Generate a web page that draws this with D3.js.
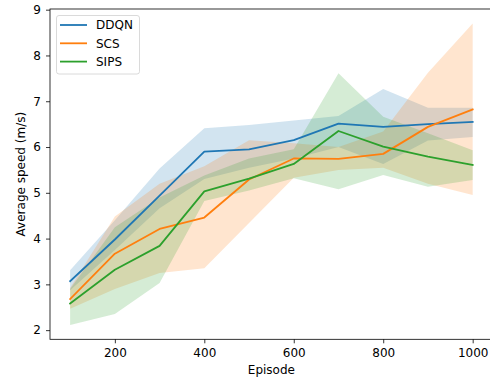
<!DOCTYPE html>
<html>
<head>
<meta charset="utf-8">
<script src="https://cdn.jsdelivr.net/npm/d3@7"></script>
<style>
  body { margin: 0; background: #fff; }
  svg { display: block; }
  text { font-family: "DejaVu Sans", sans-serif; }
</style>
</head>
<body>
<svg id="chart" width="490" height="378"></svg>
<script>
const episodes = [100, 200, 300, 400, 500, 600, 700, 800, 900, 1000];

const ddqnMean  = [3.07, 3.98, 4.94, 5.90, 5.95, 6.15, 6.51, 6.44, 6.50, 6.55];
const ddqnUpper = [3.31, 4.40, 5.53, 6.41, 6.48, 6.58, 6.68, 7.27, 6.86, 6.86];
const ddqnLower = [2.87, 3.75, 4.66, 5.30, 5.55, 5.75, 6.00, 5.63, 6.14, 6.22];

const scsMean  = [2.68, 3.67, 4.21, 4.46, 5.29, 5.75, 5.74, 5.85, 6.44, 6.82];
const scsUpper = [2.92, 4.48, 5.20, 5.58, 6.15, 6.08, 6.00, 6.34, 7.62, 8.70];
const scsLower = [2.47, 2.90, 3.25, 3.35, 4.34, 5.33, 5.50, 5.55, 5.20, 4.95];

const sipsMean  = [2.58, 3.32, 3.84, 5.03, 5.31, 5.63, 6.35, 6.01, 5.79, 5.61];
const sipsUpper = [2.90, 4.25, 4.90, 5.38, 5.75, 5.95, 7.61, 6.66, 6.30, 5.93];
const sipsLower = [2.11, 2.35, 3.03, 4.82, 5.05, 5.32, 5.08, 5.39, 5.13, 5.28];

const seriesNames = ["DDQN", "SCS", "SIPS"];
const xTicks = [200, 400, 600, 800, 1000];
const yTicks = [2, 3, 4, 5, 6, 7, 8, 9];

const colors = ["#1f77b4", "#ff7f0e", "#2ca02c"];
const series = [
  {name: seriesNames[0], mean: ddqnMean, lo: ddqnLower, hi: ddqnUpper},
  {name: seriesNames[1], mean: scsMean, lo: scsLower, hi: scsUpper},
  {name: seriesNames[2], mean: sipsMean, lo: sipsLower, hi: sipsUpper}
];

const svg = d3.select("#chart");
const L = 50, R = 492.8, T = 9, B = 339.3;

const x = d3.scaleLinear().domain([55, 1045]).range([L, R]);
const y = d3.scaleLinear().domain([1.80, 9.015]).range([B, T]);

// bands
series.forEach((s, i) => {
  const area = d3.area()
    .x((d, j) => x(episodes[j]))
    .y0((d, j) => y(s.lo[j]))
    .y1((d, j) => y(s.hi[j]));
  svg.append("path")
    .datum(episodes)
    .attr("d", area)
    .attr("fill", colors[i])
    .attr("fill-opacity", 0.2)
    .attr("stroke", "none");
});

// lines
series.forEach((s, i) => {
  const line = d3.line()
    .x((d, j) => x(episodes[j]))
    .y((d, j) => y(s.mean[j]));
  svg.append("path")
    .datum(episodes)
    .attr("d", line)
    .attr("fill", "none")
    .attr("stroke", colors[i])
    .attr("stroke-width", 1.8)
    .attr("stroke-linejoin", "round")
    .attr("stroke-linecap", "square");
});

// axes
const xAxis = d3.axisBottom(x).tickValues(xTicks).tickSize(4).tickPadding(5).tickFormat(d3.format("d"));
const yAxis = d3.axisLeft(y).tickValues(yTicks).tickSize(4).tickPadding(5).tickFormat(d3.format("d"));

const gx = svg.append("g").attr("transform", `translate(0,${B})`).call(xAxis);
const gy = svg.append("g").attr("transform", `translate(${L},0)`).call(yAxis);
[gx, gy].forEach(g => {
  g.select(".domain").remove();
  g.selectAll(".tick line").attr("stroke", "#000").attr("stroke-width", 0.8);
  g.selectAll(".tick text").attr("fill", "#000").style("font-size", "12px")
    .style("font-family", "'DejaVu Sans', sans-serif");
});

// spines
svg.append("rect")
  .attr("x", L).attr("y", T)
  .attr("width", R - L).attr("height", B - T)
  .attr("fill", "none").attr("stroke", "#000").attr("stroke-width", 0.8);

// axis labels
svg.append("text")
  .attr("x", (L + R) / 2).attr("y", 374)
  .attr("text-anchor", "middle")
  .style("font-size", "12px")
  .text("Episode");

svg.append("text")
  .attr("transform", `translate(25,${(T + B) / 2}) rotate(-90)`)
  .attr("text-anchor", "middle")
  .style("font-size", "12px")
  .text("Average speed (m/s)");

// legend
const lg = svg.append("g");
lg.append("rect")
  .attr("x", 56.5).attr("y", 15.5).attr("width", 83).attr("height", 58.5)
  .attr("rx", 2.5).attr("ry", 2.5)
  .attr("fill", "#fff").attr("fill-opacity", 0.8)
  .attr("stroke", "#d0d0d0").attr("stroke-width", 0.8);
series.forEach((s, i) => {
  const cy = 25 + i * 18.3;
  lg.append("line")
    .attr("x1", 60).attr("x2", 87).attr("y1", cy).attr("y2", cy)
    .attr("stroke", colors[i]).attr("stroke-width", 1.8);
  lg.append("text")
    .attr("x", 96).attr("y", cy + 4.3)
    .style("font-size", "12px")
    .text(s.name);
});
</script>
</body>
</html>
